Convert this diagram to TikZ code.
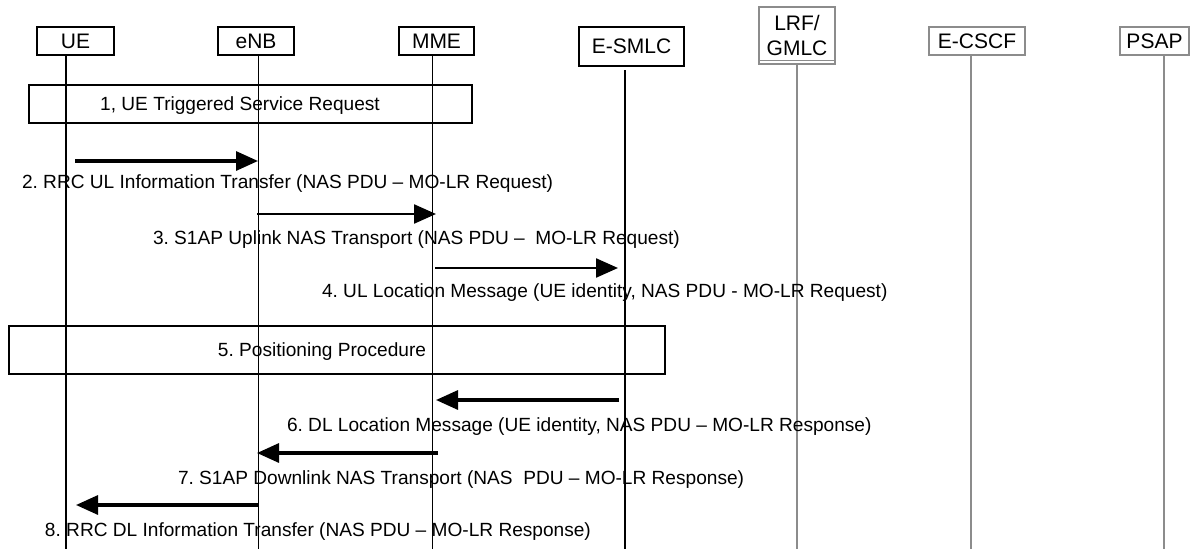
\documentclass[tikz,border=0pt]{standalone}
\usepackage{fontspec}
\setmainfont{Liberation Sans}
\usetikzlibrary{arrows.meta}
\definecolor{lgray}{HTML}{8C8C8C}
\newcommand\hdrfont{\fontsize{21}{25}\selectfont\frenchspacing}
\newcommand\lblfont{\fontsize{19.1}{23}\selectfont\frenchspacing}
\begin{document}
\begin{tikzpicture}[x=1pt,y=-1pt,
  every node/.style={inner sep=0pt, outer sep=0pt},
  hdr/.style={draw=black, line width=1.4pt, font=\hdrfont, align=center, minimum height=28},
  hdrg/.style={hdr, draw=lgray},
  life/.style={line width=1.4pt},
  lifeg/.style={life, draw=lgray},
  proc/.style={draw, line width=1.4pt},
  lbl/.style={font=\lblfont, anchor=base west},
  msg/.style={line width=3.2pt, -{Triangle[length=22pt,width=19pt]}},
  msgthin/.style={msg, line width=2.4pt},
]
\fill[white] (0,0) rectangle (1192,549);
\useasboundingbox (0,0) rectangle (1192,549);

% entity headers
\node[hdr, minimum width=77] (ue) at (75.5,41) {UE};
\node[hdr, minimum width=76] (enb) at (256,41) {eNB};
\node[hdr, minimum width=75] (mme) at (436.5,41) {MME};
\node[hdr, minimum width=105, minimum height=39] (esmlc) at (631.5,46.5) {E-SMLC};
\node[hdrg, minimum width=76, minimum height=57] (lrf) at (797,35.5) {LRF/\\GMLC};
\node[hdrg, minimum width=96] (ecscf) at (977,41) {E-CSCF};
\node[hdrg, minimum width=69] (psap) at (1154.5,41) {PSAP};
\draw[lifeg] ([yshift=3.5pt]lrf.south west) -- ([yshift=3.5pt]lrf.south east);

% lifelines
\coordinate (ueZ) at (66,549);
\coordinate (enbZ) at (258.5,549);
\coordinate (mmeZ) at (432.5,549);
\coordinate (esA) at (625,70);
\coordinate (esZ) at (625,549);
\coordinate (lrfZ) at (797,549);
\coordinate (ecZ) at (971,549);
\coordinate (psZ) at (1164,549);
\draw[life] (ue.south -| ueZ) -- (ueZ);
\draw[life] (enb.south -| enbZ) -- (enbZ);
\draw[life] (mme.south -| mmeZ) -- (mmeZ);
\draw[life] (esA) -- (esZ);
\draw[lifeg] (lrf.south -| lrfZ) -- (lrfZ);
\draw[lifeg] (ecscf.south -| ecZ) -- (ecZ);
\draw[lifeg] (psap.south -| psZ) -- (psZ);

% procedure boxes
\node[proc, minimum width=443, minimum height=38] (p1) at (250.5,104) {};
\node[lbl, anchor=base] (p1t) at (240,110) {1, UE Triggered Service Request};
\node[proc, minimum width=656, minimum height=48] (p5) at (337,350) {};
\node[lbl, anchor=base] (p5t) at (322,356) {5. Positioning Procedure};

% message end points
\coordinate (m2s) at (75,161);  \coordinate (m2e) at (258,161);
\coordinate (m3s) at (257,214); \coordinate (m3e) at (436,214);
\coordinate (m4s) at (435,268); \coordinate (m4e) at (618,268);
\coordinate (m6s) at (619,400); \coordinate (m6e) at (436,400);
\coordinate (m7s) at (438,453); \coordinate (m7e) at (257,453);
\coordinate (m8s) at (258,505); \coordinate (m8e) at (76,505);

% messages
\draw[msg] (m2s) -- (m2e);
\draw[msgthin] (m3s) -- (m3e);
\draw[msgthin] (m4s) -- (m4e);
\draw[msg] (m6s) -- (m6e);
\draw[msg] (m7s) -- (m7e);
\draw[msg] (m8s) -- (m8e);

% message labels
\node[lbl] (l2) at (22,188) {2. RRC UL Information Transfer (NAS PDU – MO-LR Request)};
\node[lbl] (l3) at (153,244) {3. S1AP Uplink NAS Transport (NAS PDU –\ \ MO-LR Request)};
\node[lbl] (l4) at (322,297) {4. UL Location Message (UE identity, NAS PDU - MO-LR Request)};
\node[lbl] (l6) at (287,431) {6. DL Location Message (UE identity, NAS PDU – MO-LR Response)};
\node[lbl] (l7) at (178,484) {7. S1AP Downlink NAS Transport (NAS\ \ PDU – MO-LR Response)};
\node[lbl] (l8) at (45,536) {8. RRC DL Information Transfer (NAS PDU – MO-LR Response)};
\end{tikzpicture}
\end{document}
